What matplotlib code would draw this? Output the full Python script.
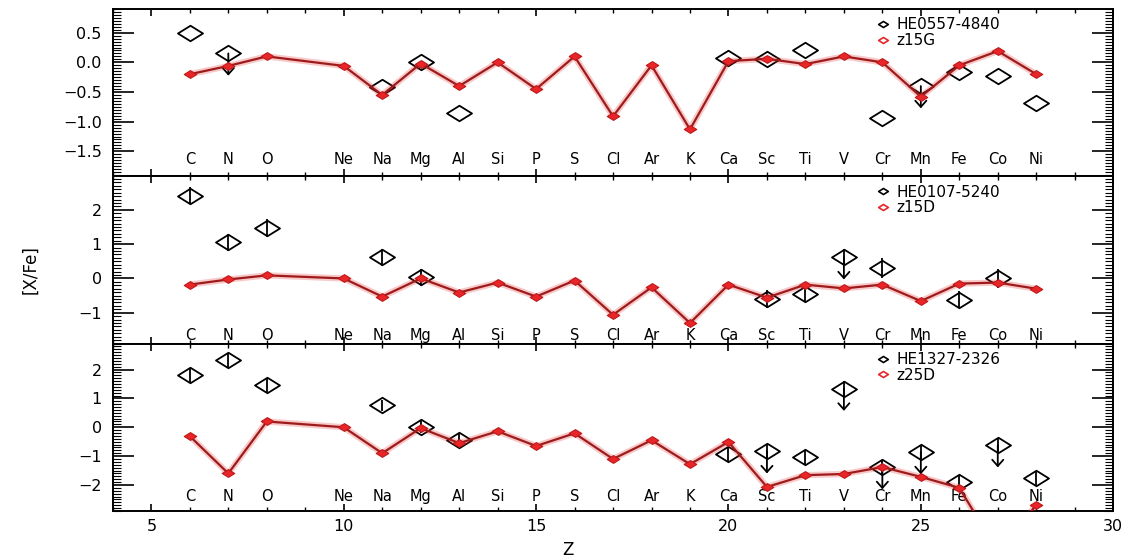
import matplotlib
matplotlib.use("Agg")
import matplotlib.pyplot as plt
from matplotlib.lines import Line2D
from matplotlib.path import Path
from matplotlib.ticker import MultipleLocator, FuncFormatter
from matplotlib.transforms import offset_copy
import numpy as np

# ----------------------
# Data
# ----------------------
elements = ["C", "N", "O", "Ne", "Na", "Mg", "Al", "Si", "P", "S", "Cl", "Ar",
            "K", "Ca", "Sc", "Ti", "V", "Cr", "Mn", "Fe", "Co", "Ni"]
z_model = [6, 7, 8, 10, 11, 12, 13, 14, 15, 16, 17, 18,
           19, 20, 21, 22, 23, 24, 25, 26, 27, 28]

# models [X/Fe]
z15g = [-0.20, -0.06, 0.10, -0.06, -0.55, -0.02, -0.40, 0.00, -0.45, 0.10, -0.91, -0.05,
        -1.13, 0.02, 0.06, -0.03, 0.10, 0.00, -0.58, -0.05, 0.19, -0.20]
z15d = [-0.18, -0.03, 0.09, 0.00, -0.53, 0.00, -0.41, -0.12, -0.53, -0.06, -1.06, -0.26,
        -1.30, -0.18, -0.56, -0.18, -0.29, -0.18, -0.66, -0.15, -0.12, -0.30]
z25d = [-0.31, -1.60, 0.20, 0.00, -0.90, -0.03, -0.55, -0.14, -0.65, -0.21, -1.10, -0.45,
        -1.28, -0.51, -2.07, -1.66, -1.62, -1.38, -1.72, -2.10, -4.30, -2.70]

# stars: Z, [X/Fe], error, upper limit flag
he0557_z = [6, 7, 11, 12, 13, 20, 21, 22, 24, 25, 26, 27, 28]
he0557_v = [0.50, 0.15, -0.42, 0.00, -0.85, 0.08, 0.06, 0.20, -0.93, -0.40, -0.17, -0.23, -0.69]
he0557_e = [0, 0, 0, 0, 0, 0, 0, 0, 0, 0, 0, 0, 0]
he0557_ul = [0, 1, 0, 0, 0, 0, 0, 0, 0, 1, 0, 0, 0]

he0107_z = [6, 7, 8, 11, 12, 21, 22, 23, 24, 26, 27]
he0107_v = [2.41, 1.06, 1.47, 0.62, 0.03, -0.60, -0.44, 0.62, 0.30, -0.62, 0.00]
he0107_e = [0.25, 0.25, 0.25, 0.25, 0.25, 0.25, 0.25, 0.25, 0.30, 0.25, 0.28]
he0107_ul = [0, 0, 0, 0, 0, 0, 0, 1, 0, 0, 0]

he1327_z = [6, 7, 8, 11, 12, 13, 20, 21, 22, 23, 24, 25, 26, 27, 28]
he1327_v = [1.80, 2.34, 1.45, 0.76, 0.00, -0.45, -0.92, -0.83, -1.03, 1.34, -1.38, -0.86, -1.90, -0.62, -1.76]
he1327_e = [0.25, 0.25, 0.25, 0.20, 0.20, 0.20, 0.25, 0.25, 0.25, 0.25, 0.25, 0.25, 0.25, 0.25, 0.25]
he1327_ul = [0, 0, 0, 0, 0, 0, 0, 1, 0, 1, 1, 1, 0, 1, 0]

panels = [
    ("HE0557-4840", "z15G", he0557_z, he0557_v, he0557_e, he0557_ul, z15g, (-1.92, 0.90), 0.5, 0.05, -1.64),
    ("HE0107-5240", "z15D", he0107_z, he0107_v, he0107_e, he0107_ul, z15d, (-1.90, 2.98), 1.0, 0.1, -1.65),
    ("HE1327-2326", "z25D", he1327_z, he1327_v, he1327_e, he1327_ul, z25d, (-2.90, 2.90), 1.0, 0.1, -2.40),
]

# squat diamond marker
diamond = Path([(-1, 0), (0, 0.62), (1, 0), (0, -0.62), (-1, 0)],
               [Path.MOVETO, Path.LINETO, Path.LINETO, Path.LINETO, Path.CLOSEPOLY])

red = "#e8262a"
dark_red = "#9e1b1b"

# ----------------------
# Figure
# ----------------------
fig, axes = plt.subplots(3, 1, sharex=True, figsize=(11.29, 5.59), dpi=100)
fig.subplots_adjust(left=0.100, right=0.986, top=0.984, bottom=0.086, hspace=0)

for ax, (star, model, sz, sv, se, sul, mv, ylim, major, minor, label_y) in zip(axes, panels):
    # star abundances
    ax.plot(sz, sv, ls="none", marker=diamond, ms=18, mfc="none", mec="k", mew=1.3, zorder=3)
    has_err = [e > 0 for e in se]
    if any(has_err):
        ax.errorbar(np.array(sz)[has_err], np.array(sv)[has_err], yerr=np.array(se)[has_err],
                    fmt="none", ecolor="k", elinewidth=1.3, capsize=0, zorder=3)
    # upper limits
    down = offset_copy(ax.transData, fig=fig, y=-16, units="points")
    for z, v, ul in zip(sz, sv, sul):
        if ul:
            ax.annotate("", xy=(z, v), xycoords=down, xytext=(z, v), textcoords="data",
                        arrowprops=dict(arrowstyle="->,head_length=0.45,head_width=0.4",
                                        color="k", lw=1.3, shrinkA=0, shrinkB=0),
                        zorder=3)

    # model line with soft halo
    ax.plot(z_model, mv, color=red, lw=4.5, alpha=0.25, solid_capstyle="round", zorder=4)
    ax.plot(z_model, mv, color=dark_red, lw=1.6, zorder=5)
    # points inside the panel are drawn whole, even at the frame edge
    mz = np.array(z_model)
    ma = np.array(mv)
    inside = (ma >= ylim[0]) & (ma <= ylim[1])
    ax.plot(mz[inside], ma[inside], ls="none", marker=diamond, ms=9, mfc=red, mec="#c01818",
            mew=0.8, zorder=6, clip_on=False)

    # element names
    for z, name in zip(z_model, elements):
        ax.text(z, label_y, name, ha="center", va="center", fontsize=10.5, zorder=2)

    ax.set_xlim(4, 30)
    ax.set_ylim(*ylim)
    ax.xaxis.set_major_locator(MultipleLocator(5))
    ax.xaxis.set_minor_locator(MultipleLocator(1))
    ax.yaxis.set_major_locator(MultipleLocator(major))
    ax.yaxis.set_minor_locator(MultipleLocator(minor))
    if major < 1:
        ax.yaxis.set_major_formatter(FuncFormatter(lambda v, p: f"{v:.1f}".replace("-", "\u2212")))
    ax.tick_params(which="both", direction="in", top=True, right=True, labelsize=11.5)
    ax.tick_params(axis="y", which="major", length=15, width=1.2, pad=8)
    ax.tick_params(axis="y", which="minor", length=6, width=0.8)
    ax.tick_params(axis="x", which="major", length=5, width=1.2, pad=6)
    ax.tick_params(axis="x", which="minor", length=3, width=1.0)
    for s in ax.spines.values():
        s.set_linewidth(1.4)

    handles = [
        Line2D([], [], ls="none", marker=diamond, ms=7, mfc="none", mec="k", mew=1.2),
        Line2D([], [], ls="none", marker=diamond, ms=7, mfc="none", mec=red, mew=1.2),
    ]
    ax.legend(handles, [star, model], loc="upper left", bbox_to_anchor=(0.755, 1.0),
              frameon=False, fontsize=11, handlelength=0.8, handletextpad=0.5,
              labelspacing=0.05, borderaxespad=0.15)

fig.text(30 / 1129, 0.517, "[X/Fe]", rotation=90, ha="center", va="center", fontsize=12)
fig.text(0.503, 0.016, "Z", ha="center", va="center", fontsize=12)

fig.savefig("out.png", dpi=100)
